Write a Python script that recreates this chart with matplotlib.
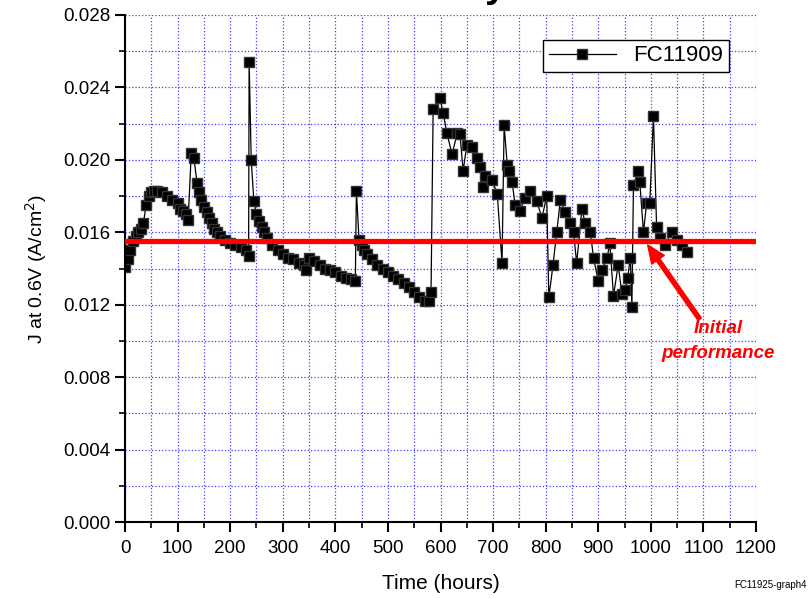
import numpy as np
import matplotlib.pyplot as plt
from matplotlib.ticker import MultipleLocator, FormatStrFormatter

plt.rcParams['font.family'] = ['Liberation Sans', 'DejaVu Sans']

# FC11909 current density at 0.6 V vs time
hours = [0, 5, 10, 15, 20, 25, 30, 35, 40, 45, 50, 55, 60, 70, 80, 90, 100, 105, 110, 115, 120,
         126, 131, 137, 140, 145, 150, 155, 160, 165, 170, 175, 180, 190, 200, 210, 220, 230, 235,
         236, 240, 245, 250, 255, 260, 265, 270, 280, 290, 300, 310, 320, 330, 340, 345,
         350, 360, 370, 380, 390, 400, 410, 420, 430, 438,
         440, 445, 450, 455, 460, 470, 480, 490, 500, 510, 520, 530, 540, 550, 560, 570, 578, 582,
         586, 599, 605, 612, 622, 632, 637, 643, 650, 660, 670, 675, 681, 685, 698, 708, 717,
         721, 727, 731, 736, 742, 751, 761, 770, 783, 793, 802, 806, 814, 821, 828, 837, 846,
         853, 859, 869, 875, 885, 891, 900, 907, 917, 922, 929, 938, 945, 951, 956, 961, 964,
         967, 976, 979, 986, 992, 998, 1005, 1011, 1017, 1027, 1040, 1050, 1060, 1069]
j_06 = [0.0141, 0.0145, 0.0150, 0.0155, 0.0158, 0.0160, 0.0162, 0.0165, 0.0175, 0.0180, 0.0182,
        0.0183, 0.0183, 0.0182, 0.0180, 0.0178, 0.0176, 0.0173, 0.0172, 0.0170, 0.0167,
        0.0204, 0.0201, 0.0187, 0.0182, 0.0178, 0.0174, 0.0171, 0.0168, 0.0165, 0.0162, 0.0160,
        0.0158, 0.0156, 0.0154, 0.0153, 0.0152, 0.0150, 0.0147,
        0.0254, 0.0200, 0.0177, 0.0170, 0.0166, 0.0163, 0.0160, 0.0157, 0.0153, 0.0150, 0.0148,
        0.0146, 0.0145, 0.0143, 0.0142, 0.0139,
        0.0146, 0.0144, 0.0142, 0.0140, 0.0139, 0.0138, 0.0136, 0.0135, 0.0134, 0.0133,
        0.0183, 0.0156, 0.0153, 0.0150, 0.0148, 0.0145, 0.0142, 0.0140, 0.0138, 0.0136, 0.0134,
        0.0132, 0.0130, 0.0127, 0.0124, 0.0122, 0.0122, 0.0127,
        0.0228, 0.0234, 0.0226, 0.0215, 0.0203, 0.0215, 0.0214, 0.0194, 0.0208, 0.0207, 0.0201,
        0.0196, 0.0185, 0.0191, 0.0189, 0.0181, 0.0143,
        0.0219, 0.0197, 0.0194, 0.0188, 0.0175, 0.0172, 0.0179, 0.0183, 0.0177, 0.0168, 0.0180,
        0.0124, 0.0142, 0.0160, 0.0178, 0.0171, 0.0165,
        0.0160, 0.0143, 0.0173, 0.0165, 0.0160, 0.0146, 0.0133, 0.0139, 0.0146, 0.0154, 0.0125,
        0.0142, 0.0126, 0.0128, 0.0135, 0.0146, 0.0119,
        0.0186, 0.0194, 0.0188, 0.0160, 0.0176, 0.0176, 0.0224, 0.0163, 0.0157, 0.0153, 0.0160,
        0.0156, 0.0153, 0.0149]
initial_perf = 0.0155

fig, ax = plt.subplots(figsize=(8.12, 5.98), dpi=100)
fig.subplots_adjust(left=0.154, right=0.931, top=0.975, bottom=0.127)

ax.plot(hours, j_06, '-s', color='black', linewidth=0.9, markersize=7,
        markeredgecolor='#333333', label='FC11909', zorder=2)
ax.axhline(initial_perf, color='red', linewidth=3.8, zorder=3)

ax.annotate('', xy=(994, 0.0153), xytext=(1093, 0.0112),
            arrowprops=dict(color='red', width=3, headwidth=11, headlength=13, shrink=0),
            zorder=4)
ax.text(1128, 0.0100, 'Initial\nperformance', color='red', fontsize=13.5,
        fontweight='bold', fontstyle='italic', ha='center', va='center', linespacing=1.55)

ax.set_xlim(0, 1200)
ax.set_ylim(0, 0.028)
ax.xaxis.set_major_locator(MultipleLocator(100))
ax.xaxis.set_minor_locator(MultipleLocator(50))
ax.yaxis.set_major_locator(MultipleLocator(0.004))
ax.yaxis.set_minor_locator(MultipleLocator(0.002))
ax.yaxis.set_major_formatter(FormatStrFormatter('%.3f'))
ax.grid(which='both', color='#0000ff', linestyle=':', linewidth=0.9, alpha=0.75)
ax.set_axisbelow(True)

for s in ['top', 'right']:
    ax.spines[s].set_visible(False)
for s in ['left', 'bottom']:
    ax.spines[s].set_linewidth(1.5)
ax.tick_params(which='major', direction='out', length=7, width=1.5, labelsize=13.5)
ax.tick_params(axis='x', which='major', pad=6)
ax.tick_params(which='minor', direction='out', length=4, width=1.2)

ax.set_xlabel('Time (hours)', fontsize=15, labelpad=12)
ax.set_ylabel('J at 0.6V (A/cm$^2$)', fontsize=14, labelpad=10)

leg = ax.legend(loc='upper right', bbox_to_anchor=(0.957, 0.951), fontsize=16,
                fancybox=False, framealpha=1, edgecolor='black', handlelength=3.0,
                borderpad=0.25, borderaxespad=0)
leg.get_frame().set_linewidth(1.0)

# title sits mostly above the canvas, as in the original
fig.text(507 / 812, 1.0045, 'Durability', fontsize=28, fontweight='bold',
         ha='right', va='baseline')
fig.text(0.993, 0.013, 'FC11925-graph4', fontsize=7, ha='right', va='bottom')

fig.savefig('out.png', dpi=100)
